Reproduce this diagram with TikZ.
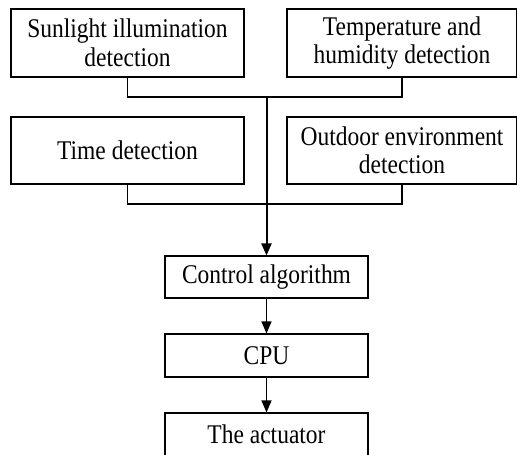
\documentclass[tikz,border=0pt]{standalone}
\usepackage{fontspec}
\setmainfont{Liberation Serif}[FakeStretch=0.87]
\usetikzlibrary{arrows.meta}
\begin{document}
\begin{tikzpicture}[x=1pt,y=1pt,
  box/.style={draw, line width=1.1pt, align=center, inner sep=0pt,
    font=\fontsize{27}{28.5}\selectfont},
  conn/.style={line width=1.3pt},
  mainline/.style={line width=2pt, -{Triangle[length=12pt,width=10pt]}},
  arr/.style={line width=1.3pt, -{Triangle[length=12pt,width=10pt]}}]
\useasboundingbox (0,0) rectangle (517,-455);
\node[box, minimum width=233pt, minimum height=68pt] (tl) at (127.5,-43) {Sunlight illumination\\detection};
\node[box, minimum width=230pt, minimum height=68pt] (tr) at (402,-43) {Temperature and\\humidity detection};
\node[box, minimum width=233pt, minimum height=67pt] (ml) at (127.5,-150.5) {Time detection};
\node[box, minimum width=230pt, minimum height=67pt] (mr) at (402,-150.5) {Outdoor environment\\detection};
\node[box, minimum width=203pt, minimum height=42pt] (ctrl) at (266.5,-277) {Control algorithm};
\node[box, minimum width=203pt, minimum height=43pt] (cpu) at (266.5,-355.5) {CPU};
\node[box, minimum width=203pt, minimum height=43pt] (act) at (266.5,-434.5) {The actuator};
\coordinate (j1) at (266.5,-97);
\coordinate (j2) at (266.5,-204);
\draw[conn] (tl.south) |- (j1) -| (tr.south);
\draw[conn] (ml.south) |- (j2) -| (mr.south);
\draw[mainline] (j1) -- (ctrl.north);
\draw[arr] (ctrl.south) -- (cpu.north);
\draw[arr] (cpu.south) -- (act.north);
\end{tikzpicture}
\end{document}
